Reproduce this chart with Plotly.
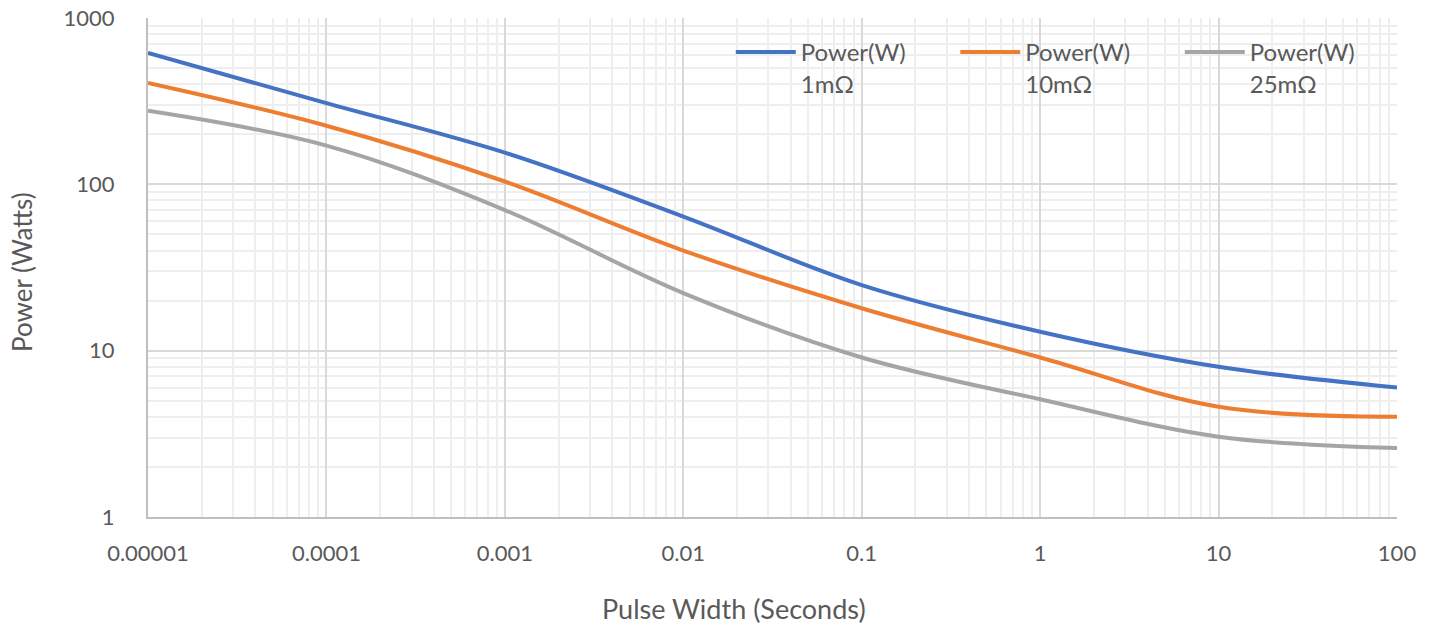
import plotly.graph_objects as go

pulse_width = [0.00001, 0.0001, 0.001, 0.01, 0.1, 1, 10, 100]
power_1mohm = [616, 308, 155, 64, 24.8, 13, 8, 6]
power_10mohm = [407, 225, 104, 40, 18, 9.1, 4.6, 4.0]
power_25mohm = [277, 171, 70, 22.2, 9.1, 5.1, 3.04, 2.6]

names = ["Power(W)<br>1mΩ", "Power(W)<br>10mΩ", "Power(W)<br>25mΩ"]
colors = ["#4472C4", "#ED7D31", "#A5A5A5"]
series = [power_1mohm, power_10mohm, power_25mohm]

x_ticks = [0.00001, 0.0001, 0.001, 0.01, 0.1, 1, 10, 100]
x_labels = ["0.00001", "0.0001", "0.001", "0.01", "0.1", "1", "10", "100"]
y_ticks = [1, 10, 100, 1000]
y_labels = ["1", "10", "100", "1000"]

FONT = "Lato"
TXT = "#595959"

fig = go.Figure()
for name, col, ys in zip(names, colors, series):
    fig.add_trace(go.Scatter(x=pulse_width, y=ys, mode="lines", name=name,
                             line=dict(color=col, width=4, shape="spline", smoothing=1.0)))

fig.update_layout(
    width=1435, height=629,
    margin=dict(l=148, r=38, t=18, b=112, autoexpand=False),
    paper_bgcolor="white", plot_bgcolor="white",
    font=dict(family=FONT, size=22, color=TXT),
    showlegend=True,
    legend=dict(orientation="h", x=0.4666, y=0.976, xanchor="left", yanchor="top",
                valign="top", font=dict(family=FONT, size=24, color=TXT),
                entrywidth=149.5, entrywidthmode="pixels", itemwidth=60,
                tracegroupgap=0, bgcolor="rgba(0,0,0,0)"),
    xaxis=dict(type="log", range=[-5, 2], tickvals=x_ticks, ticktext=x_labels,
               showgrid=True, gridcolor="#d9d9d9", gridwidth=2,
               minor=dict(dtick="D1", showgrid=True, gridcolor="#eeeeee", gridwidth=2),
               showline=True, linecolor="#bfbfbf", linewidth=2,
               ticks="", ticklabelstandoff=16, automargin=False,
               tickfont=dict(family=FONT, size=22, color=TXT), zeroline=False),
    yaxis=dict(type="log", range=[0, 3], tickvals=y_ticks, ticktext=y_labels,
               showgrid=True, gridcolor="#d9d9d9", gridwidth=2,
               minor=dict(dtick="D1", showgrid=True, gridcolor="#eeeeee", gridwidth=2),
               showline=True, linecolor="#bfbfbf", linewidth=2,
               ticks="", ticklabelstandoff=27, automargin=False,
               tickfont=dict(family=FONT, size=22, color=TXT), zeroline=False),
    annotations=[
        dict(text="Pulse Width (Seconds)", xref="paper", yref="paper",
             x=0.469, y=-0.184, xanchor="center", yanchor="middle", showarrow=False,
             font=dict(family=FONT, size=27, color=TXT)),
        dict(text="Power (Watts)", xref="paper", yref="paper",
             x=-0.1009, y=0.491, xanchor="center", yanchor="middle", showarrow=False,
             textangle=-90, font=dict(family=FONT, size=26, color=TXT)),
    ],
)

fig.write_html("out.html")
